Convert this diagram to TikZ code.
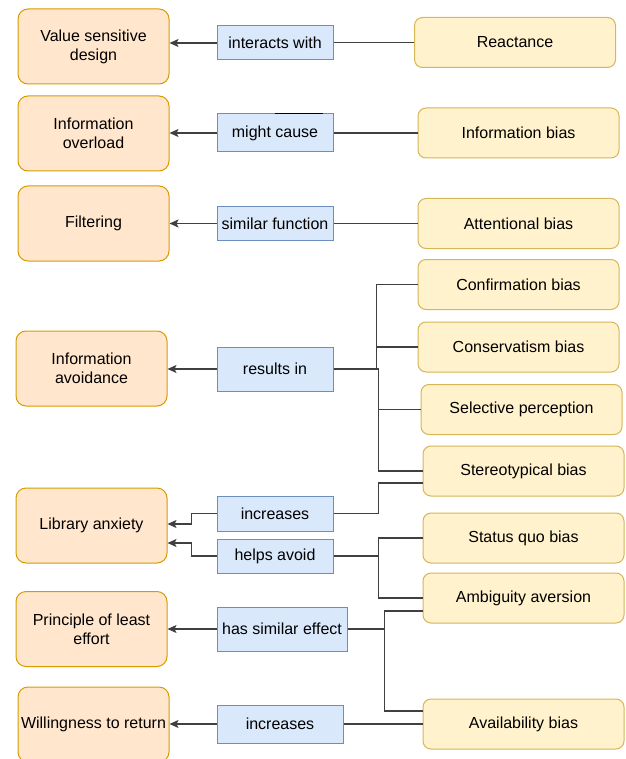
\documentclass[tikz,border=0pt]{standalone}
\usepackage{fontspec}
\setmainfont{Liberation Sans}
\usetikzlibrary{arrows.meta,shapes}
\definecolor{orfill}{HTML}{FFE6CC}
\definecolor{ordraw}{HTML}{D79B00}
\definecolor{yefill}{HTML}{FFF2CC}
\definecolor{yedraw}{HTML}{D6B656}
\definecolor{blfill}{HTML}{DAE8FC}
\definecolor{bldraw}{HTML}{6C8EBF}
\tikzstyle{effect}=[rectangle,rounded corners=10pt,draw=ordraw,fill=orfill,line width=1pt,minimum width=151pt,minimum height=75pt,inner sep=2pt,align=center,font=\fontsize{16}{19}\selectfont]
\tikzstyle{bias}=[rectangle,rounded corners=8pt,draw=yedraw,fill=yefill,line width=1pt,minimum width=201pt,minimum height=50pt,inner sep=2pt,font=\fontsize{16}{19}\selectfont]
\tikzstyle{relation}=[rectangle,draw=bldraw,fill=blfill,line width=1pt,minimum width=116pt,inner sep=2pt,font=\fontsize{16}{19}\selectfont]
\tikzstyle{link} = [draw,black!75,line width=1.2pt]
\tikzstyle{edge} = [draw,black!75,line width=1.2pt,-{Stealth[length=9pt,width=8pt,inset=2pt]}]

\begin{document}
\begin{tikzpicture}[x=1pt,y=-1pt]
    \useasboundingbox (0,0) rectangle (625,759);

    \foreach \pos/\name/\txt in {{(93.5,46.5)/vsd/{Value sensitive\\design}}, {(93.5,133.5)/ovl/{Information\\overload}},
        {(93.5,223.5)/filt/Filtering}, {(91.5,368.5)/avoid/{Information\\avoidance}}, {(91.5,525.5)/anx/Library anxiety},
        {(91.5,629)/ple/{Principle of least\\effort}}, {(93.5,724.5)/ret/Willingness to return}}
        \node[effect] (\name) at \pos {\txt};

    \foreach \pos/\name/\txt in {{(515,42.5)/rea/Reactance}, {(518.5,133)/ib/Information bias}, {(518.5,223.5)/ab/Attentional bias},
        {(518.5,284.5)/cb/Confirmation bias}, {(518.5,347)/cons/Conservatism bias}, {(521.5,409.5)/sp/Selective perception},
        {(523.5,471)/st/Stereotypical bias}, {(523.5,538)/sq/Status quo bias}, {(523.5,598)/aa/Ambiguity aversion},
        {(523.5,724)/av/Availability bias}}
        \node[bias] (\name) at \pos {\txt};

    \foreach \pos/\name/\h/\w/\txt in {{(275,43)/iw/34/116/interacts with}, {(275,133)/mc/38/116/might cause},
        {(275,223.5)/sf/33/116/similar function}, {(275,369)/ri/44/116/results in}, {(275,513.5)/inca/35/116/increases},
        {(275,556)/ha/34/116/helps avoid}, {(282,629)/hse/44/130/has similar effect}, {(280,724)/incb/38/126/increases}}
        \node[relation, minimum height=\h pt, minimum width=\w pt] (\name) at \pos {\txt};

    \draw[black, line width=1.8pt] (mc.north) -- ++(48,0);

    % straight links
    \foreach \source/ \dest in {rea/iw, ib/mc, ab/sf, av/incb}
        \path[link] (\source.west) -- (\source.west -| \dest.east);
    \foreach \source/ \dest in {iw/vsd, mc/ovl, sf/filt, ri/avoid, hse/ple, incb/ret}
        \path[edge] (\source.west) -- (\source.west -| \dest.east);

    % branching links
    \foreach \dest in {cb, cons}
        \path[link] (ri.east) -- ++(43,0) |- (\dest.west);
    \foreach \dest in {sp, st}
        \path[link] (ri.east) -- ++(45,0) |- (\dest.west);
    \path[link] (inca.east) -- ++(45,0) |- ([yshift=-12pt]st.west);
    \foreach \dest in {sq, aa}
        \path[link] (ha.east) -- ++(45,0) |- (\dest.west);
    \path[link] (hse.east) -- ++(37,0) |- ([yshift=-13pt]aa.west);
    \path[link] (hse.east) -- ++(37,0) |- ([yshift=13pt]av.west);

    \path[edge] (inca.west) -- ++(-25,0) |- ([yshift=1.5pt]anx.east);
    \path[edge] (ha.west) -- ++(-25,0) |- ([yshift=-17.5pt]anx.east);

\end{tikzpicture}
\end{document}
